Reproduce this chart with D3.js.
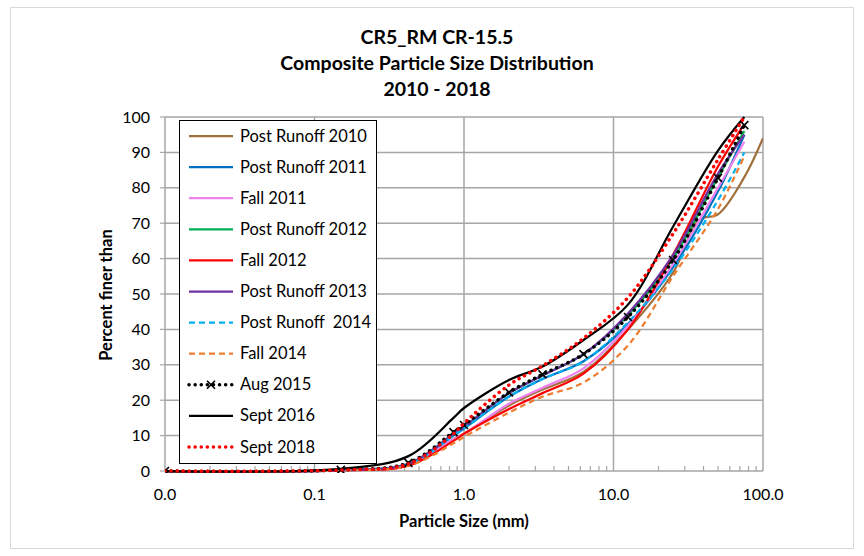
<!DOCTYPE html>
<html>
<head>
<meta charset="utf-8">
<script src="https://cdn.jsdelivr.net/npm/d3@7"></script>
<style>
  body { margin: 0; background: #fff; }
  svg { display: block; font-family: Lato, "Open Sans", sans-serif; }
</style>
</head>
<body>
<svg width="864" height="556"></svg>
<script>
// sieve sizes (mm)
const sieveSizes = [0.01, 0.15, 0.425, 0.85, 1, 2, 3.35, 6.3, 12.5, 25, 50, 75];
const sieveSizes2010 = [0.01, 0.15, 0.425, 0.85, 1, 2, 3.35, 6.3, 12.5, 25, 37.5, 50, 75, 100];

// percent finer than, per sample
const postRunoff2010 = [0, 0.2, 1.6, 9, 10.5, 18.5, 23, 28, 40, 56, 71, 72.5, 83, 94];
const postRunoff2011 = [0, 0.2, 1.8, 10, 12, 21, 26, 31, 41.5, 57.5, 79, 95];
const fall2011 = [0, 0.2, 1.6, 9, 10.5, 19, 23.5, 29, 41, 58.5, 80, 93];
const postRunoff2012 = [0, 0.3, 2, 10.5, 12.5, 22, 27, 33, 44, 60, 83, 96];
const fall2012 = [0, 0.2, 1.5, 8.5, 10.5, 17.5, 22, 27.5, 40, 61, 86, 98];
const postRunoff2013 = [0, 0.3, 2, 10.5, 12.5, 22, 27, 33, 44.5, 61, 84, 95];
const postRunoff2014 = [0, 0.2, 1.8, 10, 12, 21, 26, 31, 42, 57, 76.5, 90];
const fall2014 = [0, 0.2, 1.5, 7.8, 9.6, 16.5, 21, 25, 35.5, 55, 74, 89];
const aug2015 = [0, 0.3, 2.3, 11, 13, 22.2, 27.3, 33, 43.5, 59.6, 82.8, 97.7];
const sept2016 = [0, 0.6, 4.2, 15, 17.8, 25.7, 29.5, 37, 47, 69, 90.5, 100];
const sept2018 = [0, 0.3, 2, 10.5, 13.5, 24.3, 29.7, 37.5, 49, 67, 88, 100];

const xTicks = [0.01, 0.1, 1, 10, 100];
const yTicks = [0, 10, 20, 30, 40, 50, 60, 70, 80, 90, 100];
const titleLines = ["CR5_RM CR-15.5", "Composite Particle Size Distribution", "2010 - 2018"];

// series table (style per series)
const series = [
  {name: "Post Runoff 2010", x: sieveSizes2010, y: postRunoff2010, color: "#a0703c", dash: null},
  {name: "Post Runoff 2011", x: sieveSizes, y: postRunoff2011, color: "#0070c0", dash: null},
  {name: "Fall 2011", x: sieveSizes, y: fall2011, color: "#ee82ee", dash: null},
  {name: "Post Runoff 2012", x: sieveSizes, y: postRunoff2012, color: "#00b050", dash: null},
  {name: "Fall 2012", x: sieveSizes, y: fall2012, color: "#ff0000", dash: null},
  {name: "Post Runoff 2013", x: sieveSizes, y: postRunoff2013, color: "#7030a0", dash: null},
  {name: "Post Runoff  2014", x: sieveSizes, y: postRunoff2014, color: "#00b0f0", dash: "dash"},
  {name: "Fall 2014", x: sieveSizes, y: fall2014, color: "#ed7d31", dash: "dash"},
  {name: "Aug 2015", x: sieveSizes, y: aug2015, color: "#000000", dash: "dot", marker: true},
  {name: "Sept 2016", x: sieveSizes, y: sept2016, color: "#000000", dash: null},
  {name: "Sept 2018", x: sieveSizes, y: sept2018, color: "#ff0000", dash: "dot"}
];

const svg = d3.select("svg");
const plotL = 165, plotR = 763, plotT = 117, plotB = 471;
const gridColor = "#a6a6a6";

// outer chart border
svg.append("rect")
  .attr("x", 10.5).attr("y", 7.5).attr("width", 843).attr("height", 541)
  .attr("fill", "#fff").attr("stroke", "#d9d9d9");

const x = d3.scaleLog().domain([0.01, 100]).range([plotL, plotR]);
const y = d3.scaleLinear().domain([0, 100]).range([plotB, plotT]);

// title
svg.append("g").selectAll("text")
  .data(titleLines)
  .enter().append("text")
  .attr("x", 437)
  .attr("y", (d, i) => 44 + i * 26)
  .attr("text-anchor", "middle")
  .attr("font-size", "19.5px")
  .attr("font-weight", "bold")
  .text(d => d);

// horizontal grid
svg.append("g").selectAll("line")
  .data(yTicks)
  .enter().append("line")
  .attr("x1", plotL).attr("x2", plotR)
  .attr("y1", d => y(d)).attr("y2", d => y(d))
  .attr("stroke", gridColor).attr("stroke-width", 1.5);

// vertical grid (decades)
svg.append("g").selectAll("line")
  .data(xTicks)
  .enter().append("line")
  .attr("x1", d => x(d)).attr("x2", d => x(d))
  .attr("y1", plotT).attr("y2", plotB)
  .attr("stroke", gridColor).attr("stroke-width", 1.5);

// minor ticks on x axis, pointing inward
const minor = [];
for (let dec = 0.01; dec < 100; dec *= 10) {
  for (let k = 2; k <= 9; k++) minor.push(dec * k);
}
svg.append("g").selectAll("line")
  .data(minor)
  .enter().append("line")
  .attr("x1", d => x(d)).attr("x2", d => x(d))
  .attr("y1", plotB).attr("y2", plotB - 5)
  .attr("stroke", gridColor).attr("stroke-width", 1.2);

// y axis ticks outward
svg.append("g").selectAll("line")
  .data(yTicks)
  .enter().append("line")
  .attr("x1", plotL - 5).attr("x2", plotL)
  .attr("y1", d => y(d)).attr("y2", d => y(d))
  .attr("stroke", gridColor).attr("stroke-width", 1.2);

// tick labels
svg.append("g").selectAll("text")
  .data(yTicks)
  .enter().append("text")
  .attr("x", 150)
  .attr("y", d => y(d) + 5.5)
  .attr("text-anchor", "end")
  .attr("font-size", "16px")
  .text(d => d);

svg.append("g").selectAll("text")
  .data(xTicks)
  .enter().append("text")
  .attr("x", d => x(d))
  .attr("y", 500)
  .attr("text-anchor", "middle")
  .attr("font-size", "16px")
  .text(d => d3.format(".1f")(d));

// axis titles
svg.append("text")
  .attr("x", 464).attr("y", 527)
  .attr("text-anchor", "middle")
  .attr("font-size", "16.5px").attr("font-weight", "bold")
  .text("Particle Size (mm)");

svg.append("text")
  .attr("transform", "translate(112,295) rotate(-90)")
  .attr("text-anchor", "middle")
  .attr("font-size", "16.5px").attr("font-weight", "bold")
  .text("Percent finer than");

// clip to plot area
svg.append("clipPath").attr("id", "plot")
  .append("rect").attr("x", plotL).attr("y", plotT - 2)
  .attr("width", plotR - plotL).attr("height", plotB - plotT + 4);

function dashOf(s) {
  if (s.dash === "dash") return "6 4";
  if (s.dash === "dot") return "0.1 6";
  return null;
}

const line = d3.line().curve(d3.curveCatmullRom.alpha(0.5));
const lines = svg.append("g").attr("clip-path", "url(#plot)");

series.forEach(s => {
  const pts = s.x.map((v, i) => [x(v), y(s.y[i])]);
  lines.append("path")
    .attr("d", line(pts))
    .attr("fill", "none")
    .attr("stroke", s.color)
    .attr("stroke-width", s.dash === "dot" ? 3.5 : 2.25)
    .attr("stroke-linecap", s.dash === "dot" ? "round" : "butt")
    .attr("stroke-dasharray", dashOf(s));
  if (s.marker) {
    lines.append("g").selectAll("path")
      .data(pts)
      .enter().append("path")
      .attr("d", d => `M${d[0] - 4},${d[1] - 4}L${d[0] + 4},${d[1] + 4}M${d[0] - 4},${d[1] + 4}L${d[0] + 4},${d[1] - 4}`)
      .attr("stroke", "#000").attr("stroke-width", 1.6);
  }
});

// legend
const legend = svg.append("g");
legend.append("rect")
  .attr("x", 179.5).attr("y", 120.5).attr("width", 197).attr("height", 343)
  .attr("fill", "#fff").attr("stroke", "#000");

const rows = legend.selectAll("g.row")
  .data(series)
  .enter().append("g")
  .attr("class", "row")
  .attr("transform", (d, i) => `translate(0,${136 + i * 31.1})`);

rows.append("line")
  .attr("x1", 189).attr("x2", 233)
  .attr("stroke", d => d.color)
  .attr("stroke-width", d => d.dash === "dot" ? 3.5 : 2.25)
  .attr("stroke-linecap", d => d.dash === "dot" ? "round" : "butt")
  .attr("stroke-dasharray", d => dashOf(d));

rows.filter(d => d.marker).append("path")
  .attr("d", "M207,-4L215,4M207,4L215,-4")
  .attr("stroke", "#000").attr("stroke-width", 1.6);

rows.append("text")
  .attr("x", 240).attr("y", 5.5)
  .attr("font-size", "16.5px")
  .style("white-space", "pre")
  .text(d => d.name);
</script>
</body>
</html>
